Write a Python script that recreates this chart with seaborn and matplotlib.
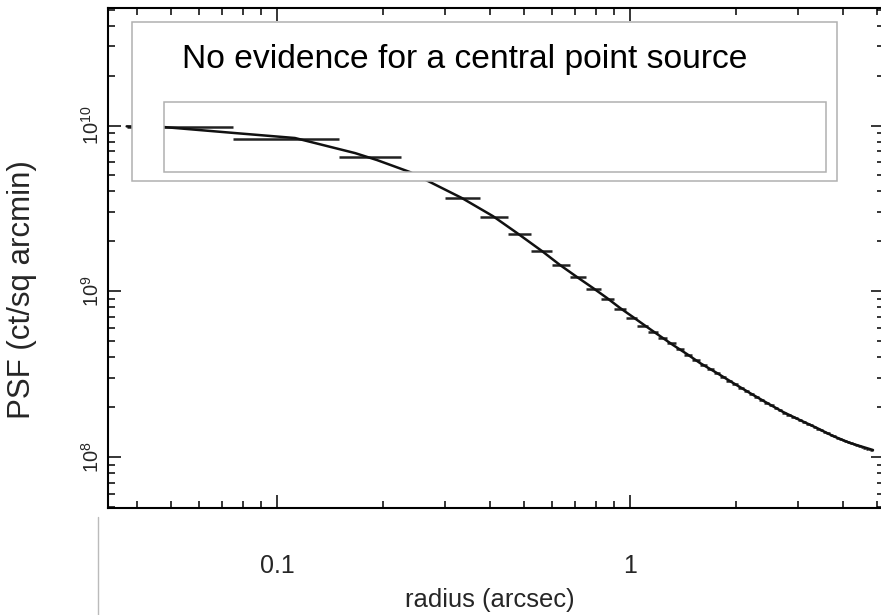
import numpy as np
import pandas as pd
import matplotlib
matplotlib.use("Agg")
import matplotlib.pyplot as plt
import seaborn as sns
from matplotlib import font_manager as fm
from matplotlib.patches import Rectangle
from matplotlib.lines import Line2D
from matplotlib.ticker import LogLocator, NullFormatter

# ---------------- data ----------------
bin_edges = [0.0375, 0.075, 0.15, 0.225, 0.3, 0.375, 0.45, 0.525, 0.6, 0.675,
             0.75, 0.825, 0.9, 0.975, 1.05, 1.125, 1.2, 1.275, 1.35, 1.425,
             1.5, 1.575, 1.65, 1.725, 1.8, 1.875, 1.95, 2.025, 2.1, 2.175,
             2.25, 2.325, 2.4, 2.475, 2.55, 2.625, 2.7, 2.775, 2.85, 2.925,
             3.0, 3.075, 3.15, 3.225, 3.3, 3.375, 3.45, 3.525, 3.6, 3.675,
             3.75, 3.825, 3.9, 3.975, 4.05, 4.125, 4.2, 4.275, 4.35, 4.425,
             4.5, 4.575, 4.65, 4.725, 4.8, 4.875]
psf_values = [9.85e9, 8.29e9, 6.45e9, 4.8e9, 3.65e9, 2.82e9, 2.21e9, 1.757e9,
              1.44e9, 1.224e9, 1.036e9, 9.04e8, 7.82e8, 6.90e8, 6.2e8, 5.68e8,
              5.22e8, 4.87e8, 4.49e8,
              4.13e8, 3.84e8, 3.60e8, 3.39e8, 3.21e8, 3.05e8, 2.89e8, 2.75e8,
              2.62e8, 2.50e8, 2.40e8, 2.30e8, 2.21e8, 2.13e8, 2.06e8, 1.98e8,
              1.91e8, 1.85e8, 1.80e8, 1.75e8, 1.71e8, 1.665e8, 1.62e8, 1.58e8,
              1.55e8, 1.52e8, 1.485e8, 1.45e8, 1.42e8, 1.39e8, 1.36e8, 1.33e8,
              1.31e8, 1.285e8, 1.265e8, 1.245e8, 1.225e8, 1.21e8, 1.19e8,
              1.175e8, 1.16e8, 1.145e8, 1.135e8, 1.125e8, 1.115e8, 1.105e8]
model_radius = [0.0375, 0.0479, 0.0760, 0.1124, 0.1664, 0.192, 0.238, 0.2713,
                0.3342, 0.409, 0.4786, 0.563, 0.6336, 0.7077, 0.7857, 0.8605,
                0.937, 1.0198, 1.117, 1.216, 1.324, 1.450, 1.579, 1.764, 1.958,
                2.188, 2.444, 2.714, 3.031, 3.386, 3.758, 4.201, 4.879]
model_psf = [9.89e9, 9.79e9, 9.01e9, 8.41e9, 6.82e9, 6.19e9, 5.24e9, 4.56e9,
             3.65e9, 2.84e9, 2.246e9, 1.749e9, 1.44e9, 1.219e9, 1.046e9, 9.11e8,
             7.93e8, 6.99e8, 6.09e8, 5.37e8, 4.74e8, 4.18e8, 3.69e8, 3.21e8,
             2.80e8, 2.43e8, 2.12e8, 1.87e8, 1.67e8, 1.496e8, 1.339e8, 1.215e8,
             1.102e8]
x_ticks = [0.1, 1]
x_tick_labels = ["0.1", "1"]
y_ticks = [1e8, 1e9, 1e10]
y_tick_labels = [r"$\mathdefault{10^{8}}$", r"$\mathdefault{10^{9}}$",
                 r"$\mathdefault{10^{10}}$"]
title_text = "No evidence for a central point source"
x_label = "radius (arcsec)"
y_label = "PSF (ct/sq arcmin)"

# ---------------- style ----------------
sns.set_style("ticks")
names = {f.name for f in fm.fontManager.ttflist}
base = "Liberation Sans"
narrow = "Liberation Sans Narrow" in names
hfam = ["Liberation Sans Narrow", base, "DejaVu Sans"] if narrow else [base, "DejaVu Sans"]
hscale = 1.0 if narrow else 0.82
plt.rcParams["font.family"] = [base, "DejaVu Sans"]
plt.rcParams["mathtext.fontset"] = "custom"
plt.rcParams["mathtext.rm"] = base
plt.rcParams["mathtext.it"] = base + ":italic"
plt.rcParams["mathtext.bf"] = base + ":bold"

W, H = 881, 615
fig = plt.figure(figsize=(W / 100, H / 100), dpi=100)
fig.patch.set_facecolor("white")
ax = fig.add_axes([108 / W, 107 / H, 776 / W, 500 / H])
ax.set_facecolor("white")
ax.set_xscale("log")
ax.set_yscale("log")

lo = np.array(bin_edges[:-1])
hi = np.array(bin_edges[1:])
df_model = pd.DataFrame({"radius": model_radius, "psf": model_psf})


def draw(z, clip=None):
    hl = ax.hlines(psf_values, lo, hi, colors="#222222", linewidth=1.8, zorder=z)
    n0 = len(ax.lines)
    sns.lineplot(data=df_model, x="radius", y="psf", ax=ax, color="#111111",
                 linewidth=1.8, estimator=None, sort=False, zorder=z)
    if clip is not None:
        hl.set_clip_path(clip)
        for ln in ax.lines[n0:]:
            ln.set_clip_path(clip)


draw(2)

outer = Rectangle((0.0309, 0.654), 0.9085, 0.318, transform=ax.transAxes,
                  facecolor="white", edgecolor="#b0b0b0", linewidth=1.1, zorder=3)
ax.add_patch(outer)
inner = Rectangle((0.0722, 0.672), 0.8531, 0.140, transform=ax.transAxes,
                  facecolor="none", edgecolor="#b0b0b0", linewidth=1.1, zorder=5)
ax.add_patch(inner)
draw(4, clip=inner)

ax.text(0.460, 0.88, title_text, transform=ax.transAxes, ha="center",
        va="baseline", fontsize=29.5 * hscale, family=hfam, color="black", zorder=6)

ax.set_xlim(0.0332, 5.243)
ax.set_ylim(4.924e7, 5.12e10)
ax.set_xticks(x_ticks, labels=x_tick_labels, fontsize=22 * hscale, family=hfam)
ax.set_yticks(y_ticks, labels=y_tick_labels, fontsize=14.5, rotation=90,
              va="center")
ax.xaxis.set_minor_locator(LogLocator(base=10, subs=np.arange(2, 10), numticks=30))
ax.yaxis.set_minor_locator(LogLocator(base=10, subs=np.arange(2, 10), numticks=30))
ax.xaxis.set_minor_formatter(NullFormatter())
ax.yaxis.set_minor_formatter(NullFormatter())
ax.tick_params(which="both", direction="in", top=True, right=True,
               color="black", width=1.1)
ax.tick_params(which="major", length=9.5)
ax.tick_params(which="minor", length=5)
ax.tick_params(axis="x", which="major", pad=33)
ax.tick_params(axis="y", which="major", pad=4)
for sp in ax.spines.values():
    sp.set_linewidth(1.5)
    sp.set_color("black")

ax.set_xlabel(x_label, fontsize=22.5 * hscale, family=hfam)
ax.xaxis.set_label_coords(0.492, -0.16)
ax.set_ylabel(y_label, fontsize=22.5, family=[base, "DejaVu Sans"])
ax.yaxis.set_label_coords(-0.092, 0.436)

fig.add_artist(Line2D([98 / W, 98 / W], [0, (615 - 517) / 615],
                      transform=fig.transFigure, color="#bbbbbb", linewidth=1))

fig.savefig("out.png", dpi=100)
